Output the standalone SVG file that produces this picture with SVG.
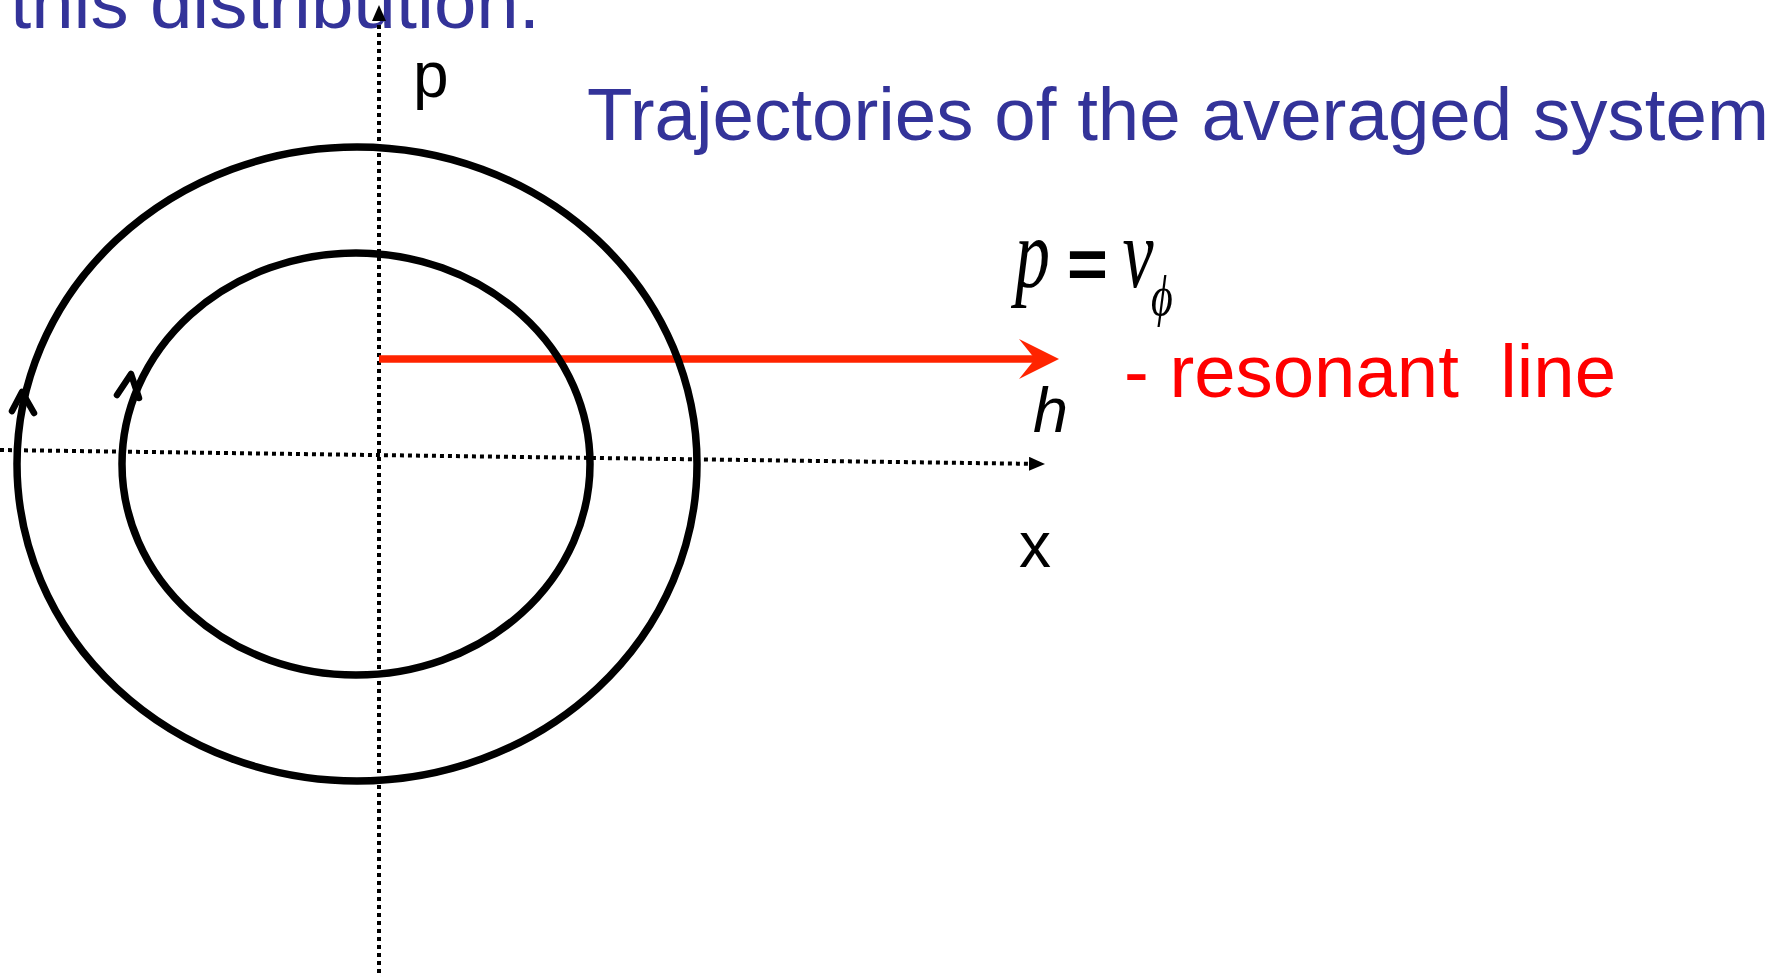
<svg xmlns="http://www.w3.org/2000/svg" width="1787" height="973" viewBox="0 0 1787 973">
  <style>
    .title { font-family: "Liberation Sans", Arial, sans-serif; font-size: 74px; fill: #333399; }
    .lbl { font-family: "Liberation Sans", Arial, sans-serif; font-size: 64px; fill: #000; }
    .ital { font-family: "Liberation Serif", "Times New Roman", serif; font-style: italic; fill: #000; }
    .axis { stroke: #000; stroke-width: 4; stroke-dasharray: 4 4; fill: none; }
    .traj { stroke: #000; stroke-width: 7.5; fill: none; }
    .tip { stroke: #000; stroke-width: 6.5; fill: none; stroke-linecap: round; stroke-linejoin: round; }
    .red { font-family: "Liberation Sans", Arial, sans-serif; font-size: 74px; fill: #FF0000; white-space: pre; }
  </style>
  <defs>
    <marker id="axhead" markerUnits="userSpaceOnUse" markerWidth="16" markerHeight="14" viewBox="0 0 16 14" refX="0" refY="7" orient="auto">
      <path d="M0,0 L16,7 L0,14 Z" fill="#000"/>
    </marker>
  </defs>
  <rect width="1787" height="973" fill="#fff"/>

  <g id="titles">
    <text class="title" x="10" y="28" textLength="530" lengthAdjust="spacingAndGlyphs">this distribution.</text>
    <text class="title" x="587" y="140" textLength="1182" lengthAdjust="spacingAndGlyphs">Trajectories of the averaged system</text>
  </g>

  <g id="connectors">
    <line id="p-axis" class="axis" x1="379" y1="973" x2="379" y2="21" marker-end="url(#axhead)"/>
    <line id="x-axis" class="axis" x1="0" y1="450" x2="1029" y2="463.8" marker-end="url(#axhead)"/>
    <g id="resonant-line">
      <line x1="379" y1="359" x2="1038" y2="359" stroke="#FF2400" stroke-width="7.5"/>
      <polygon points="1059,359 1019,339 1035,359 1019,379" fill="#FF2400"/>
    </g>
  </g>

  <g id="outer-trajectory">
    <ellipse class="traj" cx="357" cy="464" rx="340" ry="317"/>
    <polyline class="tip" points="12,411 22,392 34,413"/>
  </g>
  <g id="inner-trajectory">
    <ellipse class="traj" cx="356" cy="464" rx="234" ry="211"/>
    <polyline class="tip" points="117,395 131,374 139,398"/>
  </g>

  <g id="labels">
    <text class="lbl" x="413" y="97">p</text>
    <text class="lbl" x="1019" y="567">x</text>
    <text x="1033" y="432" font-family="Liberation Sans, Arial, sans-serif" font-style="italic" font-size="63" fill="#000">h</text>
  </g>

  <g id="formula">
    <text class="ital" font-size="100" transform="translate(1015,287) scale(0.7,1)">p</text>
    <text x="1067" y="288" font-family="Liberation Sans, Arial, sans-serif" font-weight="bold" font-size="70" fill="#000">=</text>
    <text class="ital" font-size="100" transform="translate(1122.6,287) scale(0.7,1)">v</text>
    <text class="ital" font-size="56" transform="translate(1151,315) scale(0.75,1)">ϕ</text>
  </g>

  <g id="resonant-label">
    <text class="red" x="1124" y="397" textLength="492" lengthAdjust="spacingAndGlyphs">- resonant  line</text>
  </g>
</svg>
